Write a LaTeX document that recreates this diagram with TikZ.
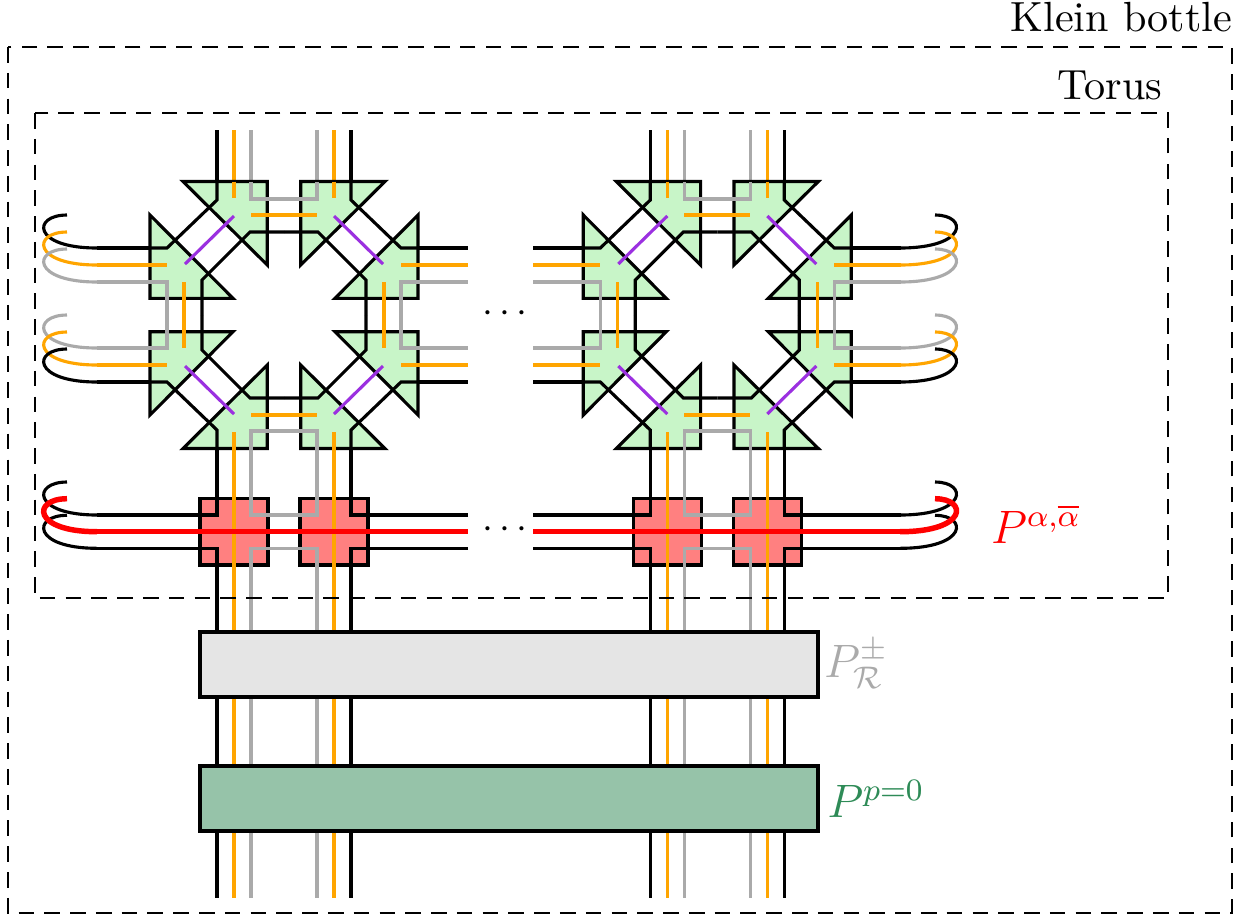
\documentclass[tikz,border=0pt]{standalone}
\usetikzlibrary{positioning}
\definecolor{tilegreen}{HTML}{C8F5C8}
\definecolor{boxgreen}{HTML}{96C3A9}
\definecolor{labgreen}{HTML}{2E8B57}
\definecolor{wireorange}{HTML}{FFA500}
\definecolor{wiregray}{HTML}{AAAAAA}
\definecolor{wirepurple}{HTML}{9B30E0}
\tikzset{
  wire/.style={black, line width=0.8pt},
  owire/.style={wireorange, line width=0.8pt},
  gwire/.style={wiregray, line width=0.8pt},
  pwire/.style={wirepurple, line width=0.8pt},
  rwire/.style={red, line width=1.4pt},
  tile/.style={fill=tilegreen, draw=black, line width=0.8pt, line join=miter},
  frame/.style={line width=0.4pt, dash pattern=on 4pt off 2.6pt},
}
% loops at the open ends of the rows
\newcommand{\lloop}[2]{\draw[#2] (97,#1) .. controls (32,#1) and (32,#1-33) .. (67,#1-33);}
\newcommand{\rloop}[2]{\draw[#2] (900,#1) .. controls (968,#1) and (968,#1-33) .. (935,#1-33);}
% one octagon cell with its red row
\newcommand{\octcell}[1]{%
  \begin{scope}[shift={(#1,0)}]
    % top legs
    \foreach \s in {1,-1} {
      \draw[wire] (\s*67,130) -- (\s*67,182);
      \draw[owire] (\s*50,130) -- (\s*50,182);
      \draw[gwire] (\s*33,130) -- (\s*33,182);
    }
    \begin{scope}[shift={(0,315)}]
      \foreach \sx in {1,-1} \foreach \sy in {1,-1} {
        \begin{scope}[xscale=\sx, yscale=\sy]
          \filldraw[tile] (-101,-133.5) -- (-16.7,-133.5) -- (-16.7,-50) -- cycle;
          \filldraw[tile] (-134,-100) -- (-134,-16.7) -- (-51,-16.7) -- cycle;
          \draw[wire] (-67,-133.5) -- (-67,-115) -- (-117,-67) -- (-134,-67);
          \draw[wire] (0,-83) -- (-34,-83) -- (-82,-35) -- (-82,0);
          \draw[owire] (-50,-133.5) -- (-50,-117);
          \draw[owire] (0,-100) -- (-33,-100);
          \draw[owire] (-100,0) -- (-100,-33);
          \draw[owire] (-134,-50) -- (-117,-50);
          \draw[gwire] (0,-116) -- (-33,-116) -- (-33,-133.5);
          \draw[gwire] (-134,-33) -- (-117,-33) -- (-117,0);
          \draw[pwire] (-99,-51) -- (-50,-99);
        \end{scope}
      }
    \end{scope}
    % side legs
    \foreach \y in {248,382} \draw[wire] (-134,\y) -- (-184,\y) (134,\y) -- (184,\y);
    \foreach \y in {265,365} \draw[owire] (-134,\y) -- (-184,\y) (134,\y) -- (184,\y);
    \foreach \y in {282,348} \draw[gwire] (-134,\y) -- (-184,\y) (134,\y) -- (184,\y);
    % red row
    \filldraw[fill=red!50, draw=black, line width=0.8pt] (-84,498.3) rectangle (-16,565);
    \filldraw[fill=red!50, draw=black, line width=0.8pt] (16,498.3) rectangle (84,565);
    \draw[wire] (-184,515) -- (-67,515) -- (-67,448.5);
    \draw[wire] (184,515) -- (67,515) -- (67,448.5);
    \draw[wire] (-184,548.3) -- (-67,548.3) -- (-67,898);
    \draw[wire] (184,548.3) -- (67,548.3) -- (67,898);
    \draw[gwire] (-33,448.5) -- (-33,515) -- (33,515) -- (33,448.5);
    \draw[gwire] (-33,898) -- (-33,548.3) -- (33,548.3) -- (33,898);
    \foreach \s in {1,-1} \draw[owire] (\s*50,448.5) -- (\s*50,898);
    \draw[rwire] (-184,531.7) -- (184,531.7);
  \end{scope}}

\begin{document}
\begin{tikzpicture}[x=0.256pt, y=-0.256pt]
  \useasboundingbox (0,0) rectangle (1238,916);

  \octcell{284}
  \octcell{717.3}

  % row ends on the left
  \draw[wire] (97,248) -- (150,248);
  \draw[owire] (97,265) -- (150,265);
  \draw[gwire] (97,282) -- (150,282);
  \draw[gwire] (97,348) -- (150,348);
  \draw[owire] (97,365) -- (150,365);
  \draw[wire] (97,382) -- (150,382);
  \lloop{248}{wire} \lloop{265}{owire} \lloop{282}{gwire}
  \lloop{348}{gwire} \lloop{365}{owire} \lloop{382}{wire}
  \lloop{515}{wire} \lloop{548.3}{wire} \lloop{531.7}{rwire}
  \draw[wire] (97,515) -- (100,515);
  \draw[wire] (97,548.3) -- (100,548.3);
  \draw[rwire] (97,531.7) -- (100,531.7);
  % row ends on the right
  \rloop{248}{wire} \rloop{265}{owire} \rloop{282}{gwire}
  \rloop{348}{gwire} \rloop{365}{owire} \rloop{382}{wire}
  \rloop{515}{wire} \rloop{548.3}{wire} \rloop{531.7}{rwire}

  \node (dotsA) at (505,314) {$\cdots$};
  \node (dotsB) at (505,530) {$\cdots$};

  % projector boxes
  \filldraw[fill=gray!20, draw=black, line width=0.8pt] (200,632) rectangle (818,697);
  \filldraw[fill=boxgreen, draw=black, line width=0.8pt] (200,766) rectangle (818,831);

  \node[red] (Palpha) at (1036,524) {\large $P^{\alpha,\overline{\alpha}}$};
  \node[wiregray] (PR) at (856,664) {\large $P^{\pm}_{\mathcal{R}}$};
  \node[labgreen] (Pp) at (876,799) {\large $P^{p=0}$};

  % frames
  \draw[frame] (35,113) rectangle (1168,598);
  \draw[frame] (8,47) rectangle (1232,913);
  \node[anchor=base east, inner sep=0pt, font=\fontsize{10.8}{13}\selectfont] (torus) at (1163,99) {Torus};
  \node[anchor=base east, inner sep=0pt, font=\fontsize{10.8}{13}\selectfont] (klein) at (1233,31) {Klein bottle};
\end{tikzpicture}
\end{document}
